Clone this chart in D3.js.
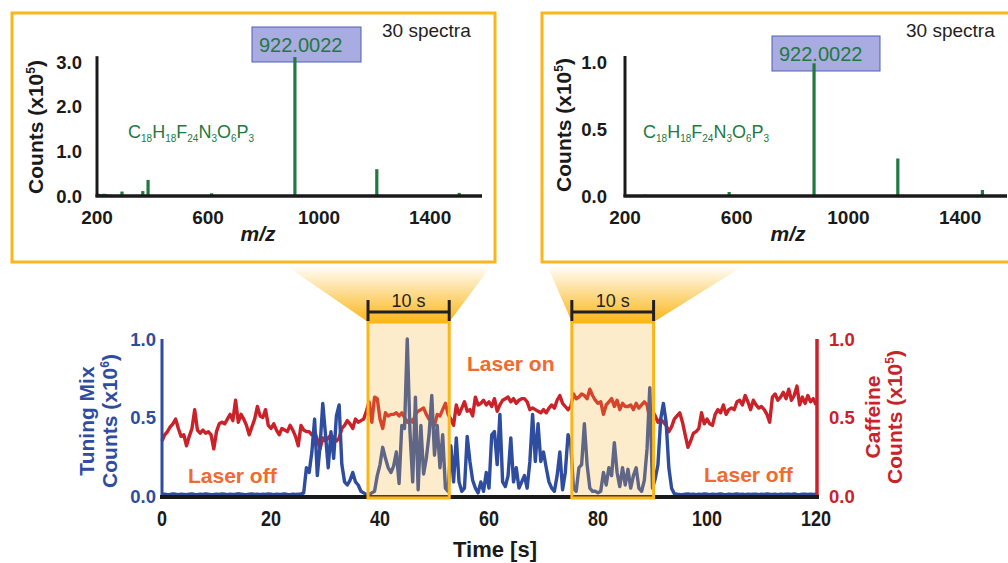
<!DOCTYPE html>
<html>
<head>
<meta charset="utf-8">
<script src="https://cdn.jsdelivr.net/npm/d3@7"></script>
<style>
    body { margin: 0; background: #fff; }
    svg { display: block; font-family: "Liberation Sans", Arial, sans-serif; }
    .narrow { font-family: "Liberation Sans Narrow", "Arial Narrow", "Liberation Sans", sans-serif; }
</style>
</head>
<body>
<svg id="chart" width="1008" height="563"></svg>
<script>
// ---- data ----
const timeStep = 0.5; // s between spectra
const timeTicks = [0, 20, 40, 60, 80, 100, 120];
const countTicks = [0, 0.5, 1];

// Tuning Mix counts (x10^6), one value per 0.5 s
const tuningMix = [
    0.010, 0.012, 0.008, 0.010, 0.014, 0.011, 0.009, 0.012, 0.010, 0.008,
    0.011, 0.013, 0.010, 0.009, 0.012, 0.010, 0.014, 0.011, 0.009, 0.010,
    0.012, 0.010, 0.013, 0.011, 0.009, 0.012, 0.010, 0.011, 0.014, 0.012,
    0.010, 0.009, 0.011, 0.013, 0.010, 0.012, 0.009, 0.011, 0.010, 0.013,
    0.011, 0.009, 0.012, 0.010, 0.011, 0.013, 0.010, 0.009, 0.012, 0.010,
    0.011, 0.012, 0.02, 0.18, 0.15, 0.28, 0.49, 0.13, 0.32, 0.59,
    0.39, 0.18, 0.41, 0.24, 0.51, 0.58, 0.20, 0.09, 0.07, 0.10,
    0.15, 0.09, 0.07, 0.03, 0.02, 0.01, 0.01, 0.02, 0.03, 0.13,
    0.20, 0.31, 0.24, 0.18, 0.15, 0.19, 0.28, 0.08, 0.45, 0.43,
    1.00, 0.41, 0.09, 0.63, 0.04, 0.45, 0.14, 0.24, 0.39, 0.64,
    0.26, 0.45, 0.18, 0.39, 0.05, 0.03, 0.32, 0.09, 0.37, 0.09,
    0.03, 0.05, 0.38, 0.22, 0.10, 0.05, 0.02, 0.09, 0.03, 0.15,
    0.05, 0.39, 0.41, 0.20, 0.52, 0.09, 0.06, 0.13, 0.37, 0.09,
    0.18, 0.05, 0.09, 0.13, 0.05, 0.22, 0.52, 0.22, 0.46, 0.22,
    0.28, 0.18, 0.09, 0.05, 0.03, 0.13, 0.28, 0.04, 0.15, 0.39,
    0.33, 0.05, 0.03, 0.18, 0.20, 0.46, 0.20, 0.05, 0.03, 0.03,
    0.02, 0.03, 0.15, 0.07, 0.18, 0.13, 0.34, 0.15, 0.06, 0.18,
    0.07, 0.17, 0.05, 0.13, 0.18, 0.05, 0.03, 0.10, 0.30, 0.69,
    0.05, 0.11, 0.20, 0.49, 0.59, 0.47, 0.18, 0.05, 0.015, 0.012,
    0.010, 0.009, 0.011, 0.013, 0.010, 0.012, 0.009, 0.011, 0.010, 0.013,
    0.011, 0.009, 0.012, 0.010, 0.011, 0.014, 0.010, 0.009, 0.012, 0.010,
    0.011, 0.013, 0.010, 0.012, 0.009, 0.011, 0.010, 0.012, 0.011, 0.009,
    0.012, 0.010, 0.013, 0.011, 0.010, 0.012, 0.009, 0.011, 0.010, 0.012,
    0.011, 0.010, 0.013, 0.010, 0.009, 0.012, 0.011, 0.010, 0.012, 0.010,
    0.011
];

// Caffeine counts (x10^5), one value per 0.5 s
const caffeine = [
    0.35, 0.39, 0.41, 0.44, 0.46, 0.49, 0.43, 0.38, 0.39, 0.32,
    0.38, 0.43, 0.55, 0.42, 0.40, 0.42, 0.40, 0.41, 0.39, 0.30,
    0.41, 0.46, 0.47, 0.46, 0.49, 0.52, 0.48, 0.61, 0.47, 0.52,
    0.49, 0.45, 0.39, 0.44, 0.49, 0.57, 0.51, 0.50, 0.55, 0.45,
    0.43, 0.46, 0.42, 0.39, 0.43, 0.42, 0.41, 0.45, 0.42, 0.38,
    0.32, 0.45, 0.42, 0.41, 0.41, 0.39, 0.41, 0.36, 0.30, 0.37,
    0.35, 0.37, 0.39, 0.37, 0.35, 0.37, 0.43, 0.45, 0.48, 0.46,
    0.43, 0.49, 0.47, 0.48, 0.49, 0.54, 0.60, 0.47, 0.63, 0.62,
    0.49, 0.43, 0.53, 0.51, 0.52, 0.52, 0.53, 0.51, 0.53, 0.50,
    0.47, 0.49, 0.47, 0.52, 0.54, 0.55, 0.56, 0.52, 0.49, 0.47,
    0.45, 0.52, 0.51, 0.55, 0.59, 0.52, 0.49, 0.45, 0.58, 0.52,
    0.56, 0.60, 0.54, 0.55, 0.51, 0.63, 0.58, 0.59, 0.61, 0.58,
    0.60, 0.57, 0.62, 0.54, 0.58, 0.61, 0.62, 0.63, 0.60, 0.62,
    0.59, 0.61, 0.62, 0.62, 0.60, 0.55, 0.56, 0.55, 0.54, 0.53,
    0.55, 0.53, 0.56, 0.58, 0.56, 0.61, 0.64, 0.59, 0.57, 0.55,
    0.57, 0.65, 0.62, 0.63, 0.65, 0.64, 0.62, 0.68, 0.64, 0.61,
    0.59, 0.60, 0.52, 0.58, 0.60, 0.62, 0.57, 0.61, 0.55, 0.59,
    0.57, 0.57, 0.58, 0.55, 0.59, 0.56, 0.58, 0.60, 0.58, 0.49,
    0.54, 0.51, 0.47, 0.49, 0.47, 0.45, 0.41, 0.44, 0.49, 0.51,
    0.53, 0.47, 0.39, 0.31, 0.35, 0.40, 0.41, 0.43, 0.53, 0.46,
    0.49, 0.46, 0.45, 0.52, 0.55, 0.53, 0.58, 0.52, 0.55, 0.56,
    0.55, 0.60, 0.61, 0.58, 0.64, 0.60, 0.55, 0.61, 0.58, 0.56,
    0.57, 0.55, 0.52, 0.47, 0.63, 0.65, 0.61, 0.63, 0.66, 0.62,
    0.68, 0.61, 0.64, 0.70, 0.58, 0.63, 0.59, 0.64, 0.60, 0.62,
    0.58
];

// averaged windows (s) shown in the insets
const windows = [[37.8, 52.7], [75.2, 90.2]];

// mass spectra (counts x10^5)
const mzTicks = [200, 600, 1000, 1400];
const leftSpecMz = [205, 215, 225, 235, 250, 290, 365, 384, 470, 613, 660, 913, 1208, 1505];
const leftSpecCounts = [0.05, 0.04, 0.05, 0.04, 0.03, 0.10, 0.11, 0.36, 0.01, 0.06, 0.01, 3.11, 0.60, 0.07];
const leftCountTicks = [0, 1, 2, 3];
const rightSpecMz = [272, 573, 877, 1177, 1480];
const rightSpecCounts = [0.01, 0.03, 0.99, 0.28, 0.045];
const rightCountTicks = [0, 0.5, 1];
const peakLabel = "922.0022";
const formula = [["C", "18"], ["H", "18"], ["F", "24"], ["N", "3"], ["O", "6"], ["P", "3"]];

// ---- colors ----
const gold = "#fbb619";
const blue = "#2e4ca0";
const red = "#cb2129";
const orange = "#f26a2e";
const green = "#22793f";

const svg = d3.select("#chart");
const defs = svg.append("defs");
const grad = defs.append("linearGradient")
    .attr("id", "fan")
    .attr("x1", 0).attr("y1", 0).attr("x2", 0).attr("y2", 1);
grad.append("stop").attr("offset", "0%").attr("stop-color", gold).attr("stop-opacity", 0);
grad.append("stop").attr("offset", "100%").attr("stop-color", gold).attr("stop-opacity", 1);

// ---- insets ----
function drawInset(cfg) {
    const g = svg.append("g");
    g.append("rect")
        .attr("x", cfg.frame[0]).attr("y", cfg.frame[1])
        .attr("width", cfg.frame[2]).attr("height", cfg.frame[3])
        .attr("fill", "#fff").attr("stroke", gold).attr("stroke-width", 3);

    const x = d3.scaleLinear().domain(cfg.mzDomain).range(cfg.xRange);
    const y = d3.scaleLinear().domain([0, cfg.ticks[cfg.ticks.length - 1]]).range([196, 62]);

    g.append("rect")
        .attr("x", cfg.box[0]).attr("y", cfg.box[1])
        .attr("width", cfg.box[2]).attr("height", cfg.box[3])
        .attr("fill", "#a8ace0").attr("stroke", "#4f5fb6").attr("stroke-width", 1);

    g.selectAll(".peak")
        .data(cfg.mz)
        .enter()
        .append("line")
        .attr("x1", d => x(d)).attr("x2", d => x(d))
        .attr("y1", y(0))
        .attr("y2", (d, i) => y(cfg.counts[i]))
        .attr("stroke", green)
        .attr("stroke-width", 3.2);

    g.append("text")
        .attr("x", cfg.box[0] + 7).attr("y", cfg.box[1] + 25)
        .attr("fill", green).attr("font-size", 20)
        .text(peakLabel);

    // axes
    g.append("line")
        .attr("x1", x(200)).attr("x2", x(200))
        .attr("y1", y(0) + 1).attr("y2", y(cfg.yTop))
        .attr("stroke", "#1a1a1a").attr("stroke-width", 3);
    g.append("line")
        .attr("x1", x(200) - 1.5).attr("x2", cfg.xRange[1])
        .attr("y1", y(0)).attr("y2", y(0))
        .attr("stroke", "#1a1a1a").attr("stroke-width", 3.5);

    g.selectAll(".ytick")
        .data(cfg.ticks)
        .enter()
        .append("text")
        .attr("x", cfg.tickRight).attr("y", d => y(d) + 6.5)
        .attr("text-anchor", "end")
        .attr("font-size", 18.5).attr("font-weight", "bold").attr("fill", "#1a1a1a")
        .text(d3.format(".1f"));

    g.selectAll(".xtick")
        .data(mzTicks)
        .enter()
        .append("text")
        .attr("x", d => x(d)).attr("y", 224)
        .attr("text-anchor", "middle")
        .attr("font-size", 19).attr("font-weight", "bold").attr("fill", "#1a1a1a")
        .text(d => d);

    g.append("text")
        .attr("x", cfg.xTitle).attr("y", 241)
        .attr("text-anchor", "middle")
        .attr("font-size", 21).attr("font-weight", "bold").attr("font-style", "italic")
        .attr("fill", "#1a1a1a")
        .text("m/z");

    const yt = g.append("text")
        .attr("transform", "translate(" + cfg.yTitle[0] + "," + cfg.yTitle[1] + ") rotate(-90)")
        .attr("text-anchor", "middle")
        .attr("font-size", 21).attr("font-weight", "bold").attr("fill", "#1a1a1a");
    yt.append("tspan").text("Counts (x10");
    yt.append("tspan").attr("dy", -8).attr("font-size", 12).text("5");
    yt.append("tspan").attr("dy", 8).text(")");

    g.append("text")
        .attr("x", cfg.spectra[0]).attr("y", cfg.spectra[1])
        .attr("font-size", 19).attr("fill", "#231f20")
        .text("30 spectra");

    const f = g.append("text")
        .attr("x", cfg.formula[0]).attr("y", cfg.formula[1])
        .attr("fill", green);
    formula.forEach(([el, n], i) => {
        f.append("tspan").attr("font-size", 18).attr("dy", i ? -4 : 0).text(el);
        f.append("tspan").attr("font-size", 10).attr("dy", 4).text(n);
    });
}

drawInset({
    frame: [12, 13, 483, 249],
    mzDomain: [200, 1587], xRange: [97, 482],
    ticks: leftCountTicks, yTop: 3.13, tickRight: 82,
    mz: leftSpecMz, counts: leftSpecCounts,
    box: [252, 27, 109, 35],
    xTitle: 258, yTitle: [43, 127],
    spectra: [382, 37], formula: [128, 138]
});
drawInset({
    frame: [542, 13, 470, 249],
    mzDomain: [200, 1568], xRange: [625, 1007],
    ticks: rightCountTicks, yTop: 1.045, tickRight: 607,
    mz: rightSpecMz, counts: rightSpecCounts,
    box: [772, 36, 108, 35],
    xTitle: 788, yTitle: [571, 125],
    spectra: [906, 37], formula: [643, 138]
});

// ---- time trace ----
const x = d3.scaleLinear().domain([0, 120]).range([162, 816]);
const yL = d3.scaleLinear().domain([0, 1]).range([496, 339]);
const yR = d3.scaleLinear().domain([0, 1]).range([496, 339]);

// fans from the insets down to the windows
const fanTops = [[285, 492], [547, 745]];
svg.selectAll(".fan")
    .data(windows)
    .enter()
    .append("path")
    .attr("d", (w, i) => "M" + fanTops[i][0] + ",265L" + fanTops[i][1] + ",265L" +
        x(w[1]) + ",322L" + x(w[0]) + ",322Z")
    .attr("fill", "url(#fan)");

const line = yScale => d3.line()
    .x((d, i) => x(i * timeStep))
    .y(d => yScale(d))
    .curve(d3.curveLinear);

svg.append("path")
    .datum(caffeine)
    .attr("d", line(yR))
    .attr("fill", "none").attr("stroke", red)
    .attr("stroke-width", 3.4).attr("stroke-linejoin", "round");

svg.append("path")
    .datum(tuningMix)
    .attr("d", line(yL))
    .attr("fill", "none").attr("stroke", blue)
    .attr("stroke-width", 3.4).attr("stroke-linejoin", "round");

// axes
svg.append("line")
    .attr("x1", x(0)).attr("x2", x(0)).attr("y1", yL(1)).attr("y2", yL(0) + 1)
    .attr("stroke", blue).attr("stroke-width", 3);
svg.append("line")
    .attr("x1", x(120) + 1).attr("x2", x(120) + 1).attr("y1", yR(1)).attr("y2", yR(0) + 1)
    .attr("stroke", red).attr("stroke-width", 3.5);
svg.append("line")
    .attr("x1", x(0) - 2).attr("x2", x(120) + 3).attr("y1", yL(0) + 1).attr("y2", yL(0) + 1)
    .attr("stroke", "#1a1a1a").attr("stroke-width", 4);

// highlighted windows
svg.selectAll(".win")
    .data(windows)
    .enter()
    .append("rect")
    .attr("x", d => x(d[0])).attr("y", 322)
    .attr("width", d => x(d[1]) - x(d[0])).attr("height", 176)
    .attr("fill", "#f7b333").attr("fill-opacity", 0.25)
    .attr("stroke", gold).attr("stroke-width", 3);

// 10 s scale bars
windows.forEach(w => {
    const bar = svg.append("g").attr("stroke", "#231f20").attr("stroke-width", 3);
    bar.append("line").attr("x1", x(w[0])).attr("x2", x(w[1])).attr("y1", 312).attr("y2", 312);
    bar.append("line").attr("x1", x(w[0])).attr("x2", x(w[0])).attr("y1", 300).attr("y2", 321);
    bar.append("line").attr("x1", x(w[1])).attr("x2", x(w[1])).attr("y1", 300).attr("y2", 321);
    svg.append("text")
        .attr("x", (x(w[0]) + x(w[1])) / 2).attr("y", 307)
        .attr("text-anchor", "middle").attr("font-size", 18).attr("fill", "#231f20")
        .text("10 s");
});

// tick labels
svg.selectAll(".lt")
    .data(countTicks)
    .enter()
    .append("text")
    .attr("x", 156).attr("y", d => yL(d) + 6.5)
    .attr("text-anchor", "end")
    .attr("font-size", 18.5).attr("font-weight", "bold").attr("fill", blue)
    .text(d3.format(".1f"));
svg.selectAll(".rt")
    .data(countTicks)
    .enter()
    .append("text")
    .attr("x", 829).attr("y", d => yR(d) + 6.5)
    .attr("font-size", 18.5).attr("font-weight", "bold").attr("fill", red)
    .text(d3.format(".1f"));
svg.selectAll(".xt")
    .data(timeTicks)
    .enter()
    .append("text")
    .attr("class", "narrow")
    .attr("x", d => x(d)).attr("y", 526)
    .attr("text-anchor", "middle")
    .attr("textLength", d => String(d).length * 10)
    .attr("lengthAdjust", "spacingAndGlyphs")
    .attr("font-size", 22).attr("font-weight", "bold").attr("fill", "#1a1a1a")
    .text(d => d);

svg.append("text")
    .attr("x", 495).attr("y", 557)
    .attr("text-anchor", "middle")
    .attr("font-size", 22).attr("font-weight", "bold").attr("fill", "#1a1a1a")
    .text("Time [s]");

// axis titles
function sideTitle(cy, lines, color) {
    lines.forEach(l => {
        const t = svg.append("text")
            .attr("transform", "translate(" + l.x + "," + cy + ") rotate(-90)")
            .attr("text-anchor", "middle")
            .attr("font-size", 21).attr("font-weight", "bold").attr("fill", color);
        if (l.sup) {
            t.append("tspan").text("Counts (x10");
            t.append("tspan").attr("dy", -8).attr("font-size", 12).text(l.sup);
            t.append("tspan").attr("dy", 8).text(")");
        } else {
            t.text(l.text);
        }
    });
}
sideTitle(421, [{ x: 94, text: "Tuning Mix" }, { x: 117, sup: "6" }], blue);
sideTitle(417, [{ x: 880, text: "Caffeine" }, { x: 902, sup: "5" }], red);

// laser annotations
const laserLabels = [
    { text: "Laser off", x: 188, y: 483 },
    { text: "Laser on", x: 467, y: 371 },
    { text: "Laser off", x: 704, y: 482 }
];
svg.selectAll(".laser")
    .data(laserLabels)
    .enter()
    .append("text")
    .attr("x", d => d.x).attr("y", d => d.y)
    .attr("font-size", 21).attr("font-weight", "bold").attr("fill", orange)
    .text(d => d.text);
</script>
</body>
</html>
